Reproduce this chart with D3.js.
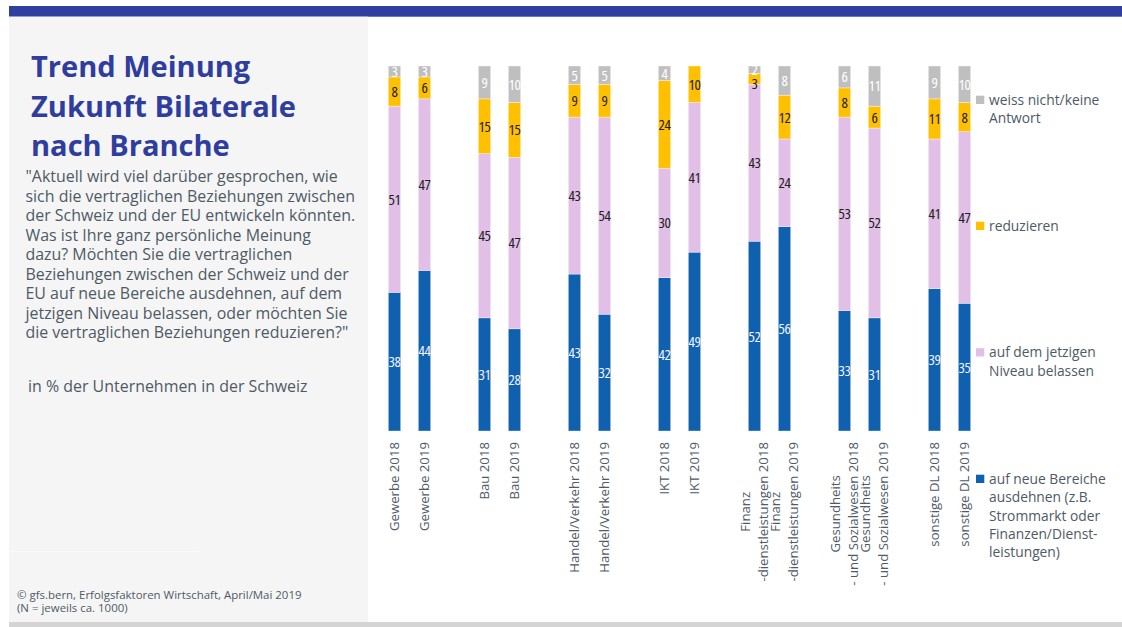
<!DOCTYPE html>
<html>
<head>
<meta charset="utf-8">
<script src="https://cdn.jsdelivr.net/npm/d3@7"></script>
<style>
  html, body { margin: 0; padding: 0; background: #ffffff; }
  svg { display: block; }
  text { font-family: "Open Sans", "Noto Sans", sans-serif; }
</style>
</head>
<body>
<svg id="chart" width="1122" height="627"></svg>
<script>
// ---- data -------------------------------------------------------------
const branches = ["Gewerbe", "Bau", "Handel/Verkehr", "IKT", "Finanz", "Gesundheit", "sonstige DL"];
const years = ["2018", "2019"];

// tick labels, one entry per bar (multi-line labels as arrays)
const tickLabels = [
  ["Gewerbe 2018"], ["Gewerbe 2019"],
  ["Bau 2018"], ["Bau 2019"],
  ["Handel/Verkehr 2018"], ["Handel/Verkehr 2019"],
  ["IKT 2018"], ["IKT 2019"],
  ["Finanz", "-dienstleistungen 2018"], ["Finanz", "-dienstleistungen 2019"],
  ["Gesundheits", "- und Sozialwesen 2018"], ["Gesundheits", "- und Sozialwesen 2019"],
  ["sonstige DL 2018"], ["sonstige DL 2019"]
];

// series values in %, one value per bar (branch x year)
const ausdehnen  = [38, 44, 31, 28, 43, 32, 42, 49, 52, 56, 33, 31, 39, 35];
const belassen   = [51, 47, 45, 47, 43, 54, 30, 41, 43, 24, 53, 52, 41, 47];
const reduzieren = [ 8,  6, 15, 15,  9,  9, 24, 10,  3, 12,  8,  6, 11,  8];
const weissNicht = [ 3,  3,  9, 10,  5,  5,  4,  0,  2,  8,  6, 11,  9, 10];

const seriesKeys   = ["ausdehnen", "belassen", "reduzieren", "weissNicht"];
const seriesColors = ["#1060b0", "#e1bfe6", "#ffc000", "#bfbfbf"];
const labelColors  = ["#eef3fa", "#222222", "#222222", "#ffffff"];
const legendLabels = [
  ["auf neue Bereiche", "ausdehnen (z.B.", "Strommarkt oder", "Finanzen/Dienst-", "leistungen)"],
  ["auf dem jetzigen", "Niveau belassen"],
  ["reduzieren"],
  ["weiss nicht/keine", "Antwort"]
];

const titleLines = ["Trend Meinung", "Zukunft Bilaterale", "nach Branche"];
const questionLines = [
  "\"Aktuell wird viel darüber gesprochen, wie",
  "sich die vertraglichen Beziehungen zwischen",
  "der Schweiz und der EU entwickeln könnten.",
  "Was ist Ihre ganz persönliche Meinung",
  "dazu? Möchten Sie die vertraglichen",
  "Beziehungen zwischen der Schweiz und der",
  "EU auf neue Bereiche ausdehnen, auf dem",
  "jetzigen Niveau belassen, oder möchten Sie",
  "die vertraglichen Beziehungen reduzieren?\""
];
const unitNote = "in % der Unternehmen in der Schweiz";
const sourceLines = ["© gfs.bern, Erfolgsfaktoren Wirtschaft, April/Mai 2019", "(N = jeweils ca. 1000)"];

// ---- setup ------------------------------------------------------------
const svg = d3.select("#chart");
const textGray = "#4e5a66";
const titleBlue = "#2f3d9e";

// font size that makes a string span a given width
function fitSize(str, weight, target) {
  const t = svg.append("text").attr("font-size", 100).attr("font-weight", weight).text(str);
  const w = t.node().getComputedTextLength();
  t.remove();
  return 100 * target / w;
}

// frame: top rule, side panel, bottom strip
svg.append("rect").attr("x", 9).attr("y", 6).attr("width", 1113).attr("height", 10.7).attr("fill", "#303f9f");
svg.append("rect").attr("x", 9).attr("y", 16.7).attr("width", 359).attr("height", 605.3).attr("fill", "#f5f5f5");
svg.append("rect").attr("x", 9).attr("y", 551).attr("width", 190).attr("height", 1.2).attr("fill", "#fbfbfb");
svg.append("rect").attr("x", 9).attr("y", 622).attr("width", 1113).attr("height", 5).attr("fill", "#d3d4d3");

// ---- left panel text ----------------------------------------------------
const titleSize = fitSize(titleLines[1], 700, 265);
svg.append("g").selectAll("text").data(titleLines).join("text")
  .attr("x", 31).attr("y", (d, i) => 77 + i * 39.5)
  .attr("font-size", titleSize).attr("font-weight", 700)
  .attr("fill", titleBlue).text(d => d);

const qSize = fitSize(questionLines[1], 400, 330);
svg.append("g").selectAll("text").data(questionLines).join("text")
  .attr("x", 25.5).attr("y", (d, i) => 182 + i * 19.5)
  .attr("font-size", qSize).attr("fill", textGray).text(d => d);

svg.append("text").attr("x", 28).attr("y", 392)
  .attr("font-size", qSize).attr("fill", textGray).text(unitNote);

const srcSize = fitSize(sourceLines[0], 400, 285);
svg.append("g").selectAll("text").data(sourceLines).join("text")
  .attr("x", 17).attr("y", (d, i) => 599 + i * 13)
  .attr("font-size", srcSize).attr("fill", textGray).text(d => d);

// ---- scales -------------------------------------------------------------
// one slot per bar plus an empty slot between branches
const barIds = [];
branches.forEach(b => years.forEach(y => barIds.push(b + " " + y)));
const slots = [];
branches.forEach((b, bi) => {
  years.forEach(y => slots.push(b + " " + y));
  if (bi < branches.length - 1) slots.push("gap" + bi);
});

const x = d3.scaleBand().domain(slots).range([379.5, 979.5]);
const y = d3.scaleLinear().domain([0, 100]).range([431, 66]);
const barW = 12.4;

const rows = barIds.map((id, i) => ({
  id,
  ausdehnen: ausdehnen[i],
  belassen: belassen[i],
  reduzieren: reduzieren[i],
  weissNicht: weissNicht[i]
}));
const stacked = d3.stack().keys(seriesKeys)(rows);

// ---- bars ---------------------------------------------------------------
const layers = svg.append("g").selectAll("g").data(stacked).join("g")
  .attr("fill", (d, i) => seriesColors[i]);

layers.selectAll("rect").data(d => d.filter(s => s[1] - s[0] > 0)).join("rect")
  .attr("x", d => x(d.data.id) + (x.bandwidth() - barW) / 2)
  .attr("y", d => y(d[1]))
  .attr("width", barW)
  .attr("height", d => y(d[0]) - y(d[1]))
  .attr("stroke", "#ffffff").attr("stroke-width", 0.6).attr("stroke-opacity", 0.6);

// value labels: centred in each segment, pushed down when two labels of
// one bar would collide (working from the top of the bar downwards)
const labelItems = [];
stacked.forEach((layer, si) => {
  layer.forEach((s, bi) => {
    if (s[1] - s[0] > 0) {
      labelItems.push({ si, bi, id: s.data.id, v: s[1] - s[0], cy: (y(s[0]) + y(s[1])) / 2 });
    }
  });
});
const minGap = 14;
d3.groups(labelItems, d => d.bi).forEach(([, items]) => {
  items.sort((a, b) => a.cy - b.cy);
  for (let k = 1; k < items.length; k++) {
    if (items[k].cy - items[k - 1].cy < minGap) items[k].cy = items[k - 1].cy + minGap;
  }
});

svg.append("g").selectAll("text").data(labelItems).join("text")
  .attr("x", d => x(d.id) + x.bandwidth() / 2)
  .attr("y", d => d.cy)
  .attr("dy", "0.36em")
  .attr("text-anchor", "middle")
  .attr("font-size", 15)
  .attr("font-stretch", "condensed")
  .attr("letter-spacing", -0.3)
  .attr("fill", d => labelColors[d.si])
  .text(d => d.v);

// ---- x axis -------------------------------------------------------------
const axis = d3.axisBottom(x).tickValues(barIds).tickSize(0).tickFormat("");
const axisG = svg.append("g").attr("transform", `translate(0,${y(0)})`).call(axis);
axisG.select(".domain").remove();

const tickSize = 13.2;
axisG.selectAll(".tick").each(function (id, i) {
  const lines = tickLabels[i];
  const t = d3.select(this).append("text")
    .attr("transform", "rotate(-90)")
    .attr("fill", textGray)
    .attr("font-size", tickSize)
    .attr("font-family", "\"Open Sans\", \"Noto Sans\", sans-serif");
  const spans = t.selectAll("tspan").data(lines).join("tspan")
    .attr("x", 0)
    .attr("y", (d, k) => (k - (lines.length - 1) / 2) * 18.5)
    .attr("dy", "0.35em")
    .text(d => d);
  if (lines.length === 1) {
    t.attr("text-anchor", "end");
    spans.attr("x", -11);
  } else {
    const maxLen = d3.max(spans.nodes(), n => n.getComputedTextLength());
    t.attr("text-anchor", "middle");
    spans.attr("x", -(11 + maxLen / 2));
  }
});

// ---- legend -------------------------------------------------------------
const legendTop = [479, 352.5, 226, 100];
const legend = svg.append("g").selectAll("g").data(seriesKeys).join("g");
legend.append("rect")
  .attr("x", 976).attr("y", (d, i) => legendTop[i] - 4.3)
  .attr("width", 8.3).attr("height", 8.3)
  .attr("fill", (d, i) => seriesColors[i]);
legend.append("g").selectAll("text").data((d, i) => legendLabels[i].map((s, k) => ({ s, k, i }))).join("text")
  .attr("x", 989)
  .attr("y", d => legendTop[d.i] + d.k * 18.4)
  .attr("dy", "0.35em")
  .attr("font-size", 13.8)
  .attr("fill", textGray)
  .text(d => d.s);
</script>
</body>
</html>
